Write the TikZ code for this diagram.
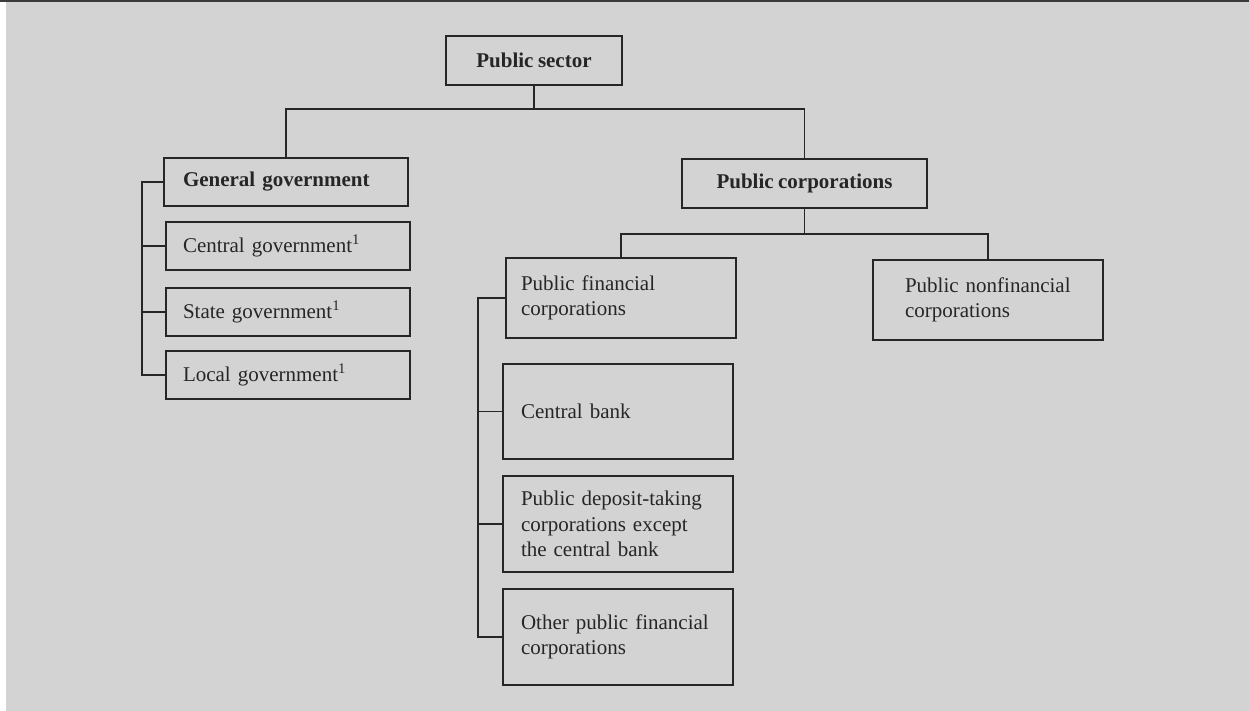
\documentclass[tikz,border=0pt]{standalone}
\usepackage{fontspec}
\setmainfont[WordSpace=0.85]{Liberation Serif}
\definecolor{bg}{HTML}{D3D3D3}
\definecolor{ink}{HTML}{262626}
\definecolor{band}{HTML}{3A3A3A}
\tikzset{
  base/.style={draw=ink, text=ink, inner ysep=0pt, font=\fontsize{10.5}{12.8}\selectfont, align=left},
  heavybox/.style={base, line width=1.2pt},
  lightbox/.style={base, line width=0.6pt},
  conn/.style={draw=ink, line width=0.6pt},
  wide/.style={minimum width=122pt, minimum height=24pt},
}
\begin{document}
\begin{tikzpicture}[x=0.5pt, y=-0.5pt]
\useasboundingbox (0,0) rectangle (1249,711);
\fill[white] (0,0) rectangle (1249,711);
\fill[bg] (6,0) rectangle (1249,711);
\fill[band] (0,0) rectangle (1249,2);

% top
\node[heavybox, line width=1.4pt, minimum width=88pt, minimum height=24.5pt, inner xsep=0pt, align=center, font=\fontsize{10.5}{12.8}\selectfont\bfseries] (PS) at (534,60.5) {Public sector};

% general government branch
\node[heavybox, wide, inner xsep=9.5pt, text width=103pt, font=\fontsize{10.5}{12.8}\selectfont\bfseries] (GG) at (286,182) {\mbox{General government}};
\node[lightbox, wide, inner xsep=8.5pt, text width=105pt] (CG) at (288,246) {\mbox{Central government\textsuperscript{1}}};
\node[lightbox, wide, inner xsep=8.5pt, text width=105pt] (SG) at (288,312) {\mbox{State government\textsuperscript{1}}};
\node[lightbox, wide, inner xsep=8.5pt, text width=105pt] (LG) at (288,375) {\mbox{Local government\textsuperscript{1}}};

% public corporations branch
\node[heavybox, minimum width=122.5pt, minimum height=24.5pt, inner xsep=0pt, align=center, font=\fontsize{10.5}{12.8}\selectfont\bfseries] (PC) at (804.5,183.5) {Public corporations};
\node[heavybox, minimum width=115pt, minimum height=40pt, inner xsep=7.5pt, text width=100pt] (PFC) at (621,298) {\mbox{Public financial}\\\mbox{corporations}};
\node[heavybox, minimum width=115pt, minimum height=40pt, inner xsep=16pt, text width=83pt] (PNC) at (988,300) {\mbox{Public nonfinancial}\\\mbox{corporations}};
\node[lightbox, minimum width=115pt, minimum height=47.5pt, inner xsep=9pt, text width=97pt] (CB) at (618,411.5) {\mbox{Central bank}};
\node[lightbox, minimum width=115pt, minimum height=48pt, inner xsep=9pt, text width=97pt] (PDT) at (618,524) {\mbox{Public deposit-taking}\\\mbox{corporations except}\\\mbox{the central bank}};
\node[lightbox, minimum width=115pt, minimum height=48pt, inner xsep=9pt, text width=97pt] (OPF) at (618,637) {\mbox{Other public financial}\\\mbox{corporations}};

% junctions
\coordinate (j1) at (534,109);
\coordinate (j2) at (804.5,234);
\coordinate (gx) at (142,0);
\coordinate (fx) at (478,0);

% connectors
\draw[conn] (PS.south) -- (j1);
\draw[conn] (GG.north) |- (j1) -| (PC.north);
\draw[conn] (PC.south) -- (j2);
\draw[conn] (PFC.north) |- (j2) -| (PNC.north);

\draw[conn] (GG.west) -- (GG.west -| gx) |- (LG.west);
\draw[conn] (CG.west) -- (CG.west -| gx);
\draw[conn] (SG.west) -- (SG.west -| gx);

\draw[conn] (PFC.west) -- (PFC.west -| fx) |- (OPF.west);
\draw[conn] (CB.west) -- (CB.west -| fx);
\draw[conn] (PDT.west) -- (PDT.west -| fx);
\end{tikzpicture}
\end{document}
